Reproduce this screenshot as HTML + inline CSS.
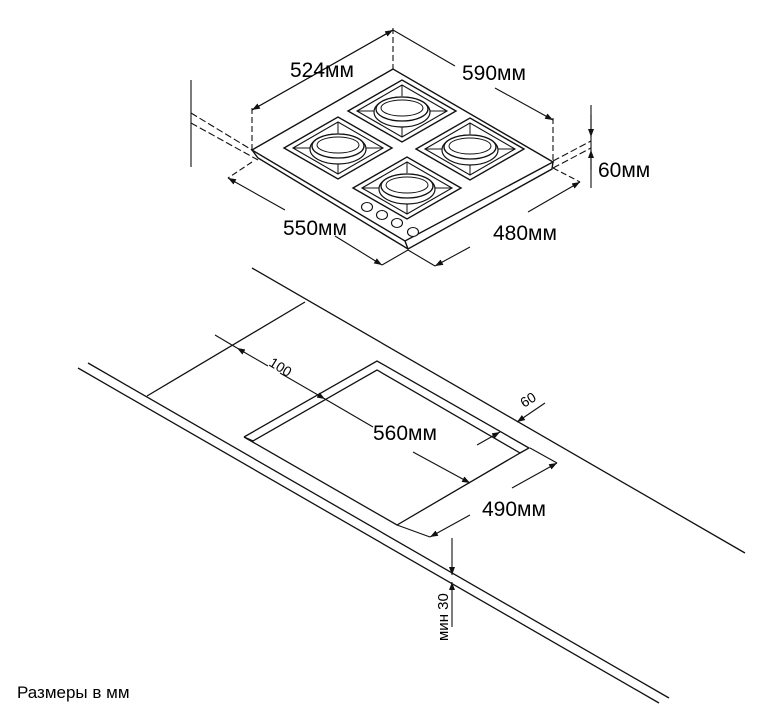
<!DOCTYPE html>
<html><head><meta charset="utf-8"><style>
html,body{margin:0;padding:0;background:#fff;}
svg{display:block;}
text{font-family:"Liberation Sans","DejaVu Sans",sans-serif;fill:#000;}
</style></head><body>
<svg width="778" height="720" viewBox="0 0 778 720" xmlns="http://www.w3.org/2000/svg">
<defs>
<marker id="a" markerWidth="8" markerHeight="6" refX="8" refY="3" orient="auto" markerUnits="userSpaceOnUse"><path d="M0,0 L8,3 L0,6z" fill="#111"/></marker>
<g id="grate">
 <path d="M-54,0 L0,-31 L54,0 L0,31 Z" fill="none" stroke="#111" stroke-width="1.4"/>
 <path d="M-45,0 L0,-26 L45,0 L0,26 Z" fill="none" stroke="#111" stroke-width="1.1"/>
 <line x1="-45" y1="0" x2="-28" y2="0" stroke="#111" stroke-width="1"/>
 <line x1="45" y1="0" x2="28" y2="0" stroke="#111" stroke-width="1"/>
 <line x1="0" y1="-26" x2="0" y2="-15" stroke="#111" stroke-width="1"/>
 <line x1="0" y1="26" x2="0" y2="15" stroke="#111" stroke-width="1"/>
 <ellipse cx="0" cy="1" rx="28" ry="15" fill="#fff" stroke="#111" stroke-width="1.2"/>
 <ellipse cx="0" cy="-2" rx="26" ry="12" fill="#fff" stroke="#111" stroke-width="1.3"/>
 <ellipse cx="0" cy="-3" rx="21" ry="8" fill="none" stroke="#111" stroke-width="1"/>
</g>
</defs>
<g stroke="#111" fill="none" stroke-width="1.4">
<path d="M393,69 L252,150 L405,241 L553,162 Z" fill="#fff"/>
<path d="M252,150 L258,158 L408,249 L552,169 L553,162"/>
<line x1="405" y1="241" x2="408" y2="249"/>
</g>
<use href="#grate" x="402" y="111"/>
<use href="#grate" x="338" y="148"/>
<use href="#grate" x="470" y="149"/>
<use href="#grate" x="407" y="188"/>
<g stroke="#111" fill="#fff" stroke-width="1.1">
<ellipse cx="367" cy="207" rx="5.5" ry="4.5"/><ellipse cx="382" cy="215" rx="5.5" ry="4.5"/>
<ellipse cx="397" cy="223" rx="5.5" ry="4.5"/><ellipse cx="413" cy="232" rx="5.5" ry="4.5"/>
</g>
<g stroke="#111" fill="none" stroke-width="1.1">
<line x1="252" y1="108" x2="252" y2="150" stroke-dasharray="6,3"/>
<line x1="393" y1="28" x2="393" y2="69" stroke-dasharray="6,3"/>
<line x1="553" y1="118" x2="553" y2="162" stroke-dasharray="6,3"/>
<line x1="393" y1="30" x2="252" y2="110" marker-end="url(#a)"/>
<line x1="252" y1="110" x2="393" y2="30" marker-end="url(#a)"/>
<line x1="393" y1="30" x2="455" y2="66"/>
<line x1="495" y1="88" x2="553" y2="120" marker-end="url(#a)"/>
<line x1="191" y1="80" x2="191" y2="167"/>
<line x1="191" y1="113" x2="252" y2="150" stroke-dasharray="7,3"/>
<line x1="191" y1="123" x2="258" y2="160" stroke-dasharray="7,3"/>
<line x1="591" y1="105" x2="591" y2="188"/>
<line x1="591" y1="115" x2="591" y2="137" marker-end="url(#a)"/>
<line x1="591" y1="170" x2="591" y2="150" marker-end="url(#a)"/>
<line x1="553" y1="161" x2="591" y2="141" stroke-dasharray="7,3"/>
<line x1="553" y1="168" x2="591" y2="148" stroke-dasharray="7,3"/>
<line x1="252" y1="162" x2="228" y2="178" stroke-dasharray="6,3"/>
<line x1="285" y1="210" x2="228" y2="178" marker-end="url(#a)"/>
<line x1="335" y1="236" x2="382" y2="265" marker-end="url(#a)"/>
<line x1="408" y1="250" x2="382" y2="265"/>
<line x1="408" y1="250" x2="435" y2="266"/>
<line x1="470" y1="247" x2="435" y2="266" marker-end="url(#a)"/>
<line x1="528" y1="212" x2="580" y2="182" marker-end="url(#a)"/>
<line x1="553" y1="168" x2="580" y2="182" stroke-dasharray="6,3"/>
</g>
<g font-size="21">
<text x="290" y="77">524мм</text>
<text x="462" y="80">590мм</text>
<text x="598" y="177">60мм</text>
<text x="283" y="235">550мм</text>
<text x="493" y="240">480мм</text>
</g>
<g stroke="#111" fill="none" stroke-width="1.3">
<line x1="252" y1="268" x2="745" y2="553"/>
<line x1="88" y1="363" x2="669" y2="698"/>
<line x1="78" y1="368" x2="659" y2="703"/>
<line x1="147" y1="396" x2="305" y2="302"/>
<path d="M244,437 L377,361 L529,448 L520,453"/>
<path d="M244,437 L253,441 L377,370 L520,453 L397,525 Z"/>
</g>
<g stroke="#111" fill="none" stroke-width="1.1">
<line x1="215" y1="335" x2="237" y2="348"/>
<line x1="268" y1="366" x2="237" y2="348" marker-end="url(#a)"/>
<line x1="280" y1="373" x2="325" y2="399" marker-end="url(#a)"/>
<line x1="325" y1="399" x2="373" y2="427"/>
<line x1="413" y1="452" x2="470" y2="483" marker-end="url(#a)"/>
<line x1="477" y1="445" x2="500" y2="432" marker-end="url(#a)"/>
<line x1="545" y1="403" x2="517" y2="422" marker-end="url(#a)"/>
<line x1="530" y1="448" x2="557" y2="463"/>
<line x1="512" y1="488" x2="557" y2="463" marker-end="url(#a)"/>
<line x1="397" y1="525" x2="430" y2="537"/>
<line x1="470" y1="515" x2="430" y2="537" marker-end="url(#a)"/>
<line x1="452" y1="538" x2="452" y2="575" marker-end="url(#a)"/>
<line x1="452" y1="627" x2="452" y2="582" marker-end="url(#a)"/>
</g>
<text x="268" y="365" font-size="14" transform="rotate(32 268 365)">100</text>
<text x="524" y="408" font-size="14" transform="rotate(-32 524 408)">60</text>
<text x="373" y="440" font-size="21">560мм</text>
<text x="482" y="516" font-size="21">490мм</text>
<text x="448" y="641" font-size="15" transform="rotate(-90 448 641)">мин 30</text>
<text x="17" y="698" font-size="17">Размеры в мм</text>
</svg>
</body></html>
